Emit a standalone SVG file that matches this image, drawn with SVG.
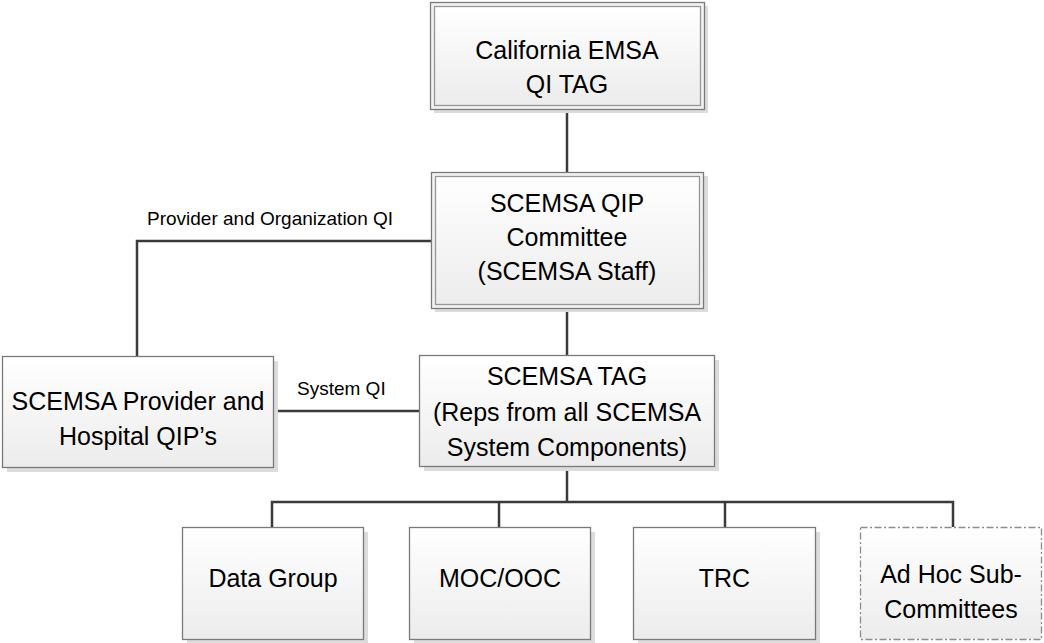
<svg xmlns="http://www.w3.org/2000/svg" width="1044" height="643" viewBox="0 0 1044 643">
<defs>
<linearGradient id="g" x1="0" y1="0" x2="0" y2="1">
<stop offset="0" stop-color="#ffffff"/>
<stop offset="1" stop-color="#ececec"/>
</linearGradient>
</defs>
<style>
.sh{fill:#dcdcdc;stroke:none}
.bx{fill:url(#g);stroke:#7a7a7a;stroke-width:1.3}
.ob{fill:#f2f2f2;stroke:#7a7a7a;stroke-width:1.3}
.ib{fill:url(#g);stroke:#969696;stroke-width:1.3}
.dh{fill:url(#g);stroke:#8c8c8c;stroke-width:1.3;stroke-dasharray:7 2.5 2 2.5}
.t{font-family:"Liberation Sans",Arial,sans-serif;font-size:25px;fill:#000;text-anchor:middle}
.l{font-family:"Liberation Sans",Arial,sans-serif;font-size:19px;fill:#000}
.c{fill:none;stroke:#3a3a3a;stroke-width:2.5}
</style>
<rect width="1044" height="643" fill="#ffffff"/>
<g id="connectors">
<line class="c" x1="567" y1="109" x2="567" y2="172"/>
<line class="c" x1="567" y1="308" x2="567" y2="356"/>
<polyline class="c" points="431,241 137,241 137,356"/>
<line class="c" x1="273" y1="411" x2="419" y2="411"/>
<line class="c" x1="567" y1="467" x2="567" y2="502"/>
<polyline class="c" points="272,527 272,502 953,502 953,527"/>
<line class="c" x1="499" y1="502" x2="499" y2="527"/>
<line class="c" x1="725" y1="502" x2="725" y2="527"/>
<text class="l" x="147" y="225">Provider and Organization QI</text>
<text class="l" x="297" y="395">System QI</text>
</g>
<g id="n1">
<rect class="sh" x="434" y="6" width="274" height="107"/>
<rect class="ob" x="430.5" y="2.5" width="274" height="107"/>
<rect class="ib" x="434.5" y="6.5" width="266" height="99"/>
<text class="t"><tspan x="567" y="59">California EMSA</tspan><tspan x="567" y="93">QI TAG</tspan></text>
</g>
<g id="n2">
<rect class="sh" x="435" y="176" width="273" height="136"/>
<rect class="ob" x="431.5" y="172.5" width="272" height="136"/>
<rect class="ib" x="435.5" y="176.5" width="264" height="128"/>
<text class="t"><tspan x="567" y="212">SCEMSA QIP</tspan><tspan x="567" y="246">Committee</tspan><tspan x="567" y="280">(SCEMSA Staff)</tspan></text>
</g>
<g id="n3">
<rect class="sh" x="7" y="361" width="271" height="111"/>
<rect class="bx" x="2.5" y="356.5" width="271" height="111"/>
<text class="t"><tspan x="138" y="410">SCEMSA Provider and</tspan><tspan x="138" y="445">Hospital QIP’s</tspan></text>
</g>
<g id="n4">
<rect class="sh" x="424" y="360" width="295" height="111"/>
<rect class="bx" x="419.5" y="355.5" width="295" height="111"/>
<text class="t"><tspan x="567" y="385">SCEMSA TAG</tspan><tspan x="567" y="421">(Reps from all SCEMSA</tspan><tspan x="567" y="456">System Components)</tspan></text>
</g>
<g id="n5">
<rect class="sh" x="187" y="532" width="181" height="112"/>
<rect class="bx" x="182.5" y="527.5" width="181" height="112"/>
<text class="t" x="273" y="587">Data Group</text>
</g>
<g id="n6">
<rect class="sh" x="414" y="532" width="181" height="112"/>
<rect class="bx" x="409.5" y="527.5" width="181" height="112"/>
<text class="t" x="500" y="587">MOC/OOC</text>
</g>
<g id="n7">
<rect class="sh" x="638" y="532" width="182" height="112"/>
<rect class="bx" x="633.5" y="527.5" width="182" height="112"/>
<text class="t" x="724.5" y="587">TRC</text>
</g>
<g id="n8">
<rect class="dh" x="860.5" y="527.5" width="181" height="112"/>
<text class="t"><tspan x="951" y="583">Ad Hoc Sub-</tspan><tspan x="951" y="618">Committees</tspan></text>
</g>
</svg>
